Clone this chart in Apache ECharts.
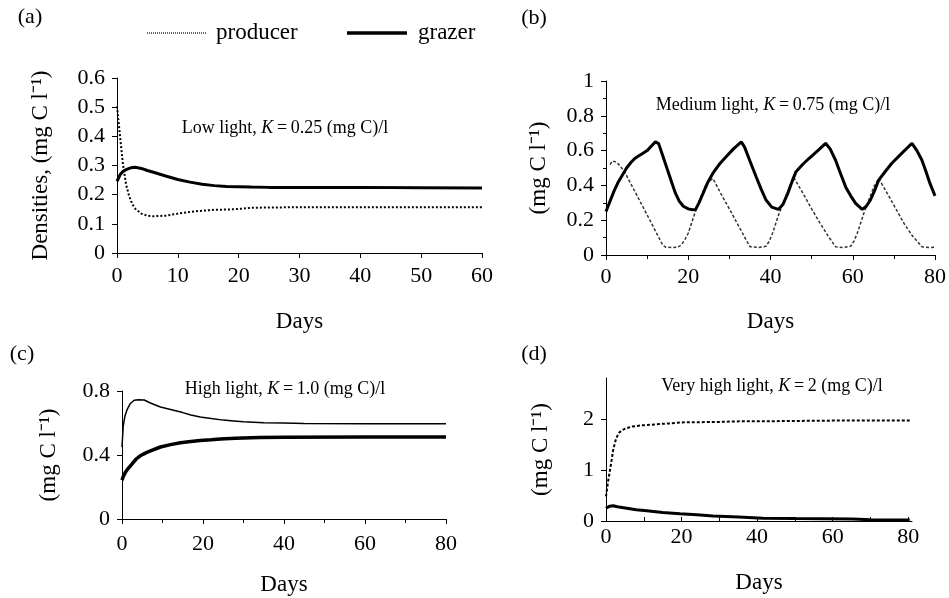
<!DOCTYPE html>
<html>
<head>
<meta charset="utf-8">
<script src="https://cdn.jsdelivr.net/npm/echarts@6/dist/echarts.min.js"></script>
<style>
html, body { margin: 0; padding: 0; background: #fff; }
#main { width: 949px; height: 598px; }
</style>
</head>
<body>
<div id="main"></div>
<script>
// (a) low light
var aDays     = [0, 0.5, 1, 1.5, 2, 2.5, 3, 4, 5, 6, 8, 10, 12, 14, 16, 18, 20, 22, 25, 30, 40, 50, 60];
var aProducer = [0.503, 0.40, 0.30, 0.234, 0.195, 0.168, 0.152, 0.135, 0.128, 0.126, 0.128, 0.135, 0.141, 0.145, 0.148, 0.149, 0.151, 0.155, 0.156, 0.157, 0.157, 0.157, 0.157];
var aGrazer   = [0.246, 0.268, 0.28, 0.286, 0.29, 0.293, 0.294, 0.29, 0.283, 0.277, 0.264, 0.252, 0.243, 0.236, 0.231, 0.228, 0.227, 0.226, 0.225, 0.225, 0.225, 0.224, 0.223];

// (b) medium light
var bGrazerDays = [0, 1, 2, 3, 4, 5, 6, 7, 8, 9, 10, 11, 12, 12.8, 13.8, 14.8, 15.8, 16.8, 17.8, 18.8, 20, 21, 21.8, 22.6, 23.6, 24.8, 26, 27.5, 29.2, 31, 32.9, 33.7, 35, 36.5, 37.7, 38.9, 40.3, 41.9, 43, 44.2, 45.2, 46.2, 47.8, 49.4, 51.5, 53.4, 54.5, 55.8, 57, 58.3, 59.5, 60.7, 62.3, 63.3, 64.3, 65.3, 66.3, 67.9, 69.5, 71.9, 74.4, 75.6, 76.8, 77.8, 78.8, 80];
var bGrazer     = [0.25, 0.31, 0.37, 0.42, 0.46, 0.50, 0.53, 0.555, 0.57, 0.585, 0.60, 0.625, 0.65, 0.64, 0.57, 0.50, 0.43, 0.36, 0.31, 0.28, 0.265, 0.26, 0.262, 0.30, 0.354, 0.42, 0.47, 0.52, 0.565, 0.61, 0.65, 0.62, 0.54, 0.45, 0.38, 0.316, 0.275, 0.262, 0.29, 0.354, 0.42, 0.479, 0.52, 0.556, 0.60, 0.642, 0.61, 0.546, 0.47, 0.39, 0.34, 0.297, 0.262, 0.28, 0.316, 0.37, 0.43, 0.48, 0.527, 0.584, 0.642, 0.60, 0.546, 0.48, 0.41, 0.34];
var bProducerDays = [1, 1.5, 2.5, 3.5, 4.7, 7, 9, 11, 12.5, 13.8, 14.5, 16, 17.5, 18.4, 19.2, 20, 21.6, 22.8, 24.4, 26, 28, 30, 32, 34, 35, 37, 38.9, 39.7, 40.5, 42.1, 43.4, 44.6, 45.8, 48, 50, 52, 54, 55.8, 57.5, 59.5, 60.3, 61.1, 62.7, 63.9, 65.1, 66.3, 68.5, 70.5, 72.5, 74.5, 76.8, 78.5, 80];
var bProducer     = [0.52, 0.54, 0.535, 0.51, 0.47, 0.366, 0.276, 0.185, 0.116, 0.057, 0.045, 0.043, 0.045, 0.06, 0.09, 0.125, 0.24, 0.316, 0.41, 0.44, 0.35, 0.265, 0.178, 0.09, 0.048, 0.043, 0.05, 0.08, 0.125, 0.24, 0.316, 0.39, 0.44, 0.35, 0.265, 0.185, 0.11, 0.048, 0.043, 0.05, 0.08, 0.125, 0.24, 0.316, 0.39, 0.44, 0.35, 0.265, 0.18, 0.11, 0.048, 0.043, 0.045];

// (c) high light
var cProducerDays = [0, 0.3, 0.7, 1.2, 2, 3, 4, 5.5, 7, 9.5, 12, 15, 17, 19.3, 22, 25, 27.6, 30, 35, 40, 45, 60, 80];
var cProducer     = [0.45, 0.58, 0.64, 0.68, 0.72, 0.742, 0.745, 0.744, 0.725, 0.70, 0.685, 0.665, 0.65, 0.637, 0.628, 0.618, 0.613, 0.608, 0.602, 0.600, 0.597, 0.596, 0.596];
var cGrazerDays = [0, 0.3, 0.8, 1.5, 2.5, 3.5, 4.5, 6, 7.5, 9.5, 12, 14.4, 17, 19.3, 22, 24.3, 28, 34, 40, 60, 80];
var cGrazer     = [0.243, 0.265, 0.29, 0.315, 0.345, 0.375, 0.395, 0.415, 0.43, 0.45, 0.465, 0.476, 0.484, 0.49, 0.495, 0.50, 0.504, 0.51, 0.511, 0.512, 0.512];

// (d) very high light
var dProducerDays = [0, 0.5, 1.06, 1.5, 1.9, 2.5, 3.3, 4.3, 5.5, 7, 9, 12, 14.3, 17, 19.6, 25, 30, 33.7, 45, 58.4, 70, 80.4];
var dProducer     = [0.48, 0.75, 1.0, 1.2, 1.39, 1.57, 1.72, 1.78, 1.82, 1.85, 1.87, 1.885, 1.9, 1.91, 1.93, 1.935, 1.94, 1.95, 1.955, 1.965, 1.97, 1.97];
var dGrazerDays = [0, 1, 1.9, 3, 5.5, 8, 10.8, 15, 19.6, 24, 28.4, 35, 41.6, 50, 65.4, 70, 80.4];
var dGrazer     = [0.25, 0.29, 0.30, 0.28, 0.25, 0.22, 0.2, 0.165, 0.14, 0.12, 0.10, 0.08, 0.055, 0.048, 0.04, 0.025, 0.02];

var panelTexts = ['Low light, ', 'Medium light, ', 'High light, ', 'Very high light, '];
var panelK = ['0.25', '0.75', '1.0', '2'];
var panelLetters = ['(a)', '(b)', '(c)', '(d)'];
var seriesNames = ['producer', 'grazer'];

var serif = 'Liberation Serif, Times New Roman, serif';

function zip(xs, ys) {
  return xs.map(function (x, i) { return [x, ys[i]]; });
}

var myChart = echarts.init(document.getElementById('main'));

var grids = [
  { left: 117, top: 78, width: 365, height: 175 },
  { left: 606, top: 81, width: 331, height: 174 },
  { left: 122, top: 391, width: 324, height: 128 },
  { left: 606, top: 378, width: 306, height: 143 }
];

function xAxis(i, max, interval, opts) {
  return {
    type: 'value', gridIndex: i, min: 0, max: max, interval: interval,
    name: 'Days', nameLocation: 'middle', nameGap: opts.nameGap,
    nameTextStyle: { fontFamily: serif, fontSize: 23, color: '#000' },
    axisLine: { lineStyle: { color: '#000', width: 1 } },
    axisTick: { show: true, length: 5, inside: !!opts.inside, lineStyle: { color: '#000' } },
    minorTick: { show: !!opts.minor, splitNumber: 2, length: 4, lineStyle: { color: '#000' } },
    axisLabel: { fontFamily: serif, fontSize: 22, color: '#000', margin: opts.margin },
    splitLine: { show: false }
  };
}

function yAxis(i, max, interval, opts) {
  var ax = {
    type: 'value', gridIndex: i, min: 0, max: max, interval: interval,
    name: opts.name, nameLocation: 'middle', nameGap: opts.nameGap,
    nameTextStyle: { fontFamily: serif, fontSize: 23, color: '#000' },
    axisLine: { show: true, lineStyle: { color: '#000', width: 1 } },
    axisTick: { show: true, length: 5, lineStyle: { color: '#000' } },
    minorTick: { show: !!opts.minor, splitNumber: 2, length: 3, lineStyle: { color: '#000' } },
    axisLabel: { fontFamily: serif, fontSize: 22, color: '#000', margin: 12,
      formatter: function (v) { return String(+v.toFixed(2)); } },
    splitLine: { show: false }
  };
  if (opts.custom) {
    ax.axisTick.customValues = opts.custom;
    ax.axisLabel.customValues = opts.custom;
  }
  return ax;
}

var unitName = '(mg C l\u207B\u00B9)';

var graphics = [];

// key at the top of panel (a)
graphics.push({ type: 'line', shape: { x1: 147, y1: 33, x2: 207, y2: 33 },
  style: { stroke: '#000', lineWidth: 1.2, lineDash: [1, 1] } });
graphics.push({ type: 'text', x: 216, y: 33,
  style: { text: seriesNames[0], font: '23px ' + serif, fill: '#000', align: 'left', verticalAlign: 'middle' } });
graphics.push({ type: 'line', shape: { x1: 347, y1: 33, x2: 407, y2: 33 },
  style: { stroke: '#000', lineWidth: 3.5 } });
graphics.push({ type: 'text', x: 418, y: 33,
  style: { text: seriesNames[1], font: '23px ' + serif, fill: '#000', align: 'left', verticalAlign: 'middle' } });

var letterPos = [[30, 17], [534, 18], [22, 354], [534, 354]];
var notePos = [[285, 128], [773, 105], [285, 389], [772, 386]];
for (var i = 0; i < 4; i++) {
  graphics.push({
    type: 'text', x: letterPos[i][0], y: letterPos[i][1],
    style: { text: panelLetters[i], font: '22px ' + serif, fill: '#000', align: 'center', verticalAlign: 'middle' }
  });
  graphics.push({
    type: 'text', x: notePos[i][0], y: notePos[i][1],
    style: {
      text: panelTexts[i] + '{i|K}\u2009=\u2009' + panelK[i] + ' (mg C)/l',
      font: '18px ' + serif, fill: '#000', align: 'center', verticalAlign: 'middle',
      rich: { i: { fontStyle: 'italic', fontFamily: serif, fontSize: 18, fill: '#000' } }
    }
  });
}

function line(name, i, data, style) {
  return {
    name: name, type: 'line', xAxisIndex: i, yAxisIndex: i,
    data: data, symbol: 'none', showSymbol: false, smooth: false,
    lineStyle: style, itemStyle: { color: style.color }
  };
}

myChart.setOption({
  animation: false,
  backgroundColor: '#fff',
  grid: grids,
  xAxis: [
    xAxis(0, 60, 10, { margin: 12, nameGap: 57 }),
    xAxis(1, 80, 20, { margin: 11, nameGap: 55, minor: true }),
    xAxis(2, 80, 20, { margin: 14, nameGap: 54, minor: true }),
    (function () {
      var ax = xAxis(3, 81, 20, { margin: 5, nameGap: 50, inside: true });
      ax.axisTick.customValues = [0, 10, 20, 30, 40, 50, 60, 70, 80];
      ax.axisTick.length = 4;
      ax.axisLabel.customValues = [0, 20, 40, 60, 80];
      return ax;
    })()
  ],
  yAxis: [
    yAxis(0, 0.6, 0.1, { name: 'Densities, ' + unitName, nameGap: 65 }),
    yAxis(1, 1, 0.2, { name: unitName, nameGap: 56, minor: true }),
    yAxis(2, 0.8, 0.4, { name: unitName, nameGap: 62 }),
    yAxis(3, 2.8, 1, { name: unitName, nameGap: 54, custom: [0, 1, 2] })
  ],
  graphic: graphics,
  series: [
    line(seriesNames[0], 0, zip(aDays, aProducer), { color: '#000', width: 2, type: [2, 2] }),
    line(seriesNames[1], 0, zip(aDays, aGrazer), { color: '#000', width: 3, type: 'solid' }),
    line(seriesNames[0], 1, zip(bProducerDays, bProducer), { color: '#333', width: 1.5, type: [3, 2] }),
    line(seriesNames[1], 1, zip(bGrazerDays, bGrazer), { color: '#000', width: 3, type: 'solid' }),
    line(seriesNames[0], 2, zip(cProducerDays, cProducer), { color: '#000', width: 1.5, type: 'solid' }),
    line(seriesNames[1], 2, zip(cGrazerDays, cGrazer), { color: '#000', width: 3.5, type: 'solid' }),
    line(seriesNames[0], 3, zip(dProducerDays, dProducer), { color: '#000', width: 2, type: [3, 2] }),
    line(seriesNames[1], 3, zip(dGrazerDays, dGrazer), { color: '#000', width: 3, type: 'solid' })
  ]
});
</script>
</body>
</html>
